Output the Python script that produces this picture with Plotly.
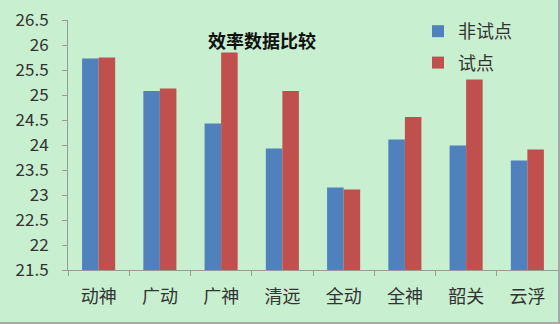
import plotly.graph_objects as go

categories = ["动神", "广动", "广神", "清远", "全动", "全神", "韶关", "云浮"]
non_pilot = [25.73, 25.08, 24.43, 23.93, 23.15, 24.11, 23.99, 23.69]
pilot = [25.75, 25.13, 25.85, 25.08, 23.11, 24.56, 25.31, 23.91]
series_names = ["非试点", "试点"]
title_text = "效率数据比较"

FONT = "Noto Sans CJK SC"
BG = "#C8EFCF"

fig = go.Figure()
fig.add_trace(go.Bar(x=categories, y=non_pilot, name=series_names[0],
                     marker=dict(color="#4F81BD", line=dict(width=0)),
                     legendgroup="a"))
fig.add_trace(go.Bar(x=categories, y=pilot, name=series_names[1],
                     marker=dict(color="#C0504D", line=dict(width=0)),
                     legendgroup="b"))

W, H = 560, 324
ml, mr, mt, mb = 68, 2, 20, 54
pw, ph = W - ml - mr, H - mt - mb

fig.update_layout(
    width=W, height=H,
    margin=dict(l=ml, r=mr, t=mt, b=mb),
    paper_bgcolor=BG, plot_bgcolor=BG,
    barmode="group", bargap=0.46, bargroupgap=0,
    font=dict(family=FONT, size=15, color="#333333"),
    showlegend=True,
    legend=dict(x=(418 - ml) / pw, y=(H - mb - 13) / ph, xanchor="left", yanchor="top",
                bgcolor="rgba(0,0,0,0)", traceorder="grouped",
                tracegroupgap=5, font=dict(size=18, color="#333333")),
    xaxis=dict(showline=True, linecolor="#9A9A9A", linewidth=1,
               ticks="outside", tickson="boundaries", ticklen=5,
               tickcolor="#9A9A9A", showgrid=False, ticklabelstandoff=10,
               tickfont=dict(size=18, color="#333333")),
    yaxis=dict(range=[21.5, 26.5], dtick=0.5, tick0=21.5,
               showline=True, linecolor="#9A9A9A", linewidth=1,
               ticks="outside", ticklen=5, tickcolor="#9A9A9A",
               showgrid=False, zeroline=False, ticklabelstandoff=10,
               tickfont=dict(size=17, color="#333333")),
    annotations=[dict(text="<b>" + title_text + "</b>", xref="paper", yref="paper",
                      x=(262 - ml) / pw, y=(H - mb - 40) / ph,
                      xanchor="center", yanchor="middle", showarrow=False,
                      font=dict(family=FONT, size=18, color="#111111"))],
    shapes=[
        dict(type="line", xref="paper", yref="paper",
             x0=-ml / pw, x1=(W - ml) / pw, y0=-(mb - 1) / ph, y1=-(mb - 1) / ph,
             line=dict(color="#A8A8A8", width=2)),
        dict(type="line", xref="paper", yref="paper",
             x0=(W - ml - 1) / pw, x1=(W - ml - 1) / pw, y0=-mb / ph, y1=(H - mb) / ph,
             line=dict(color="#A8A8A8", width=2)),
    ],
)

fig.write_html("out.html")
